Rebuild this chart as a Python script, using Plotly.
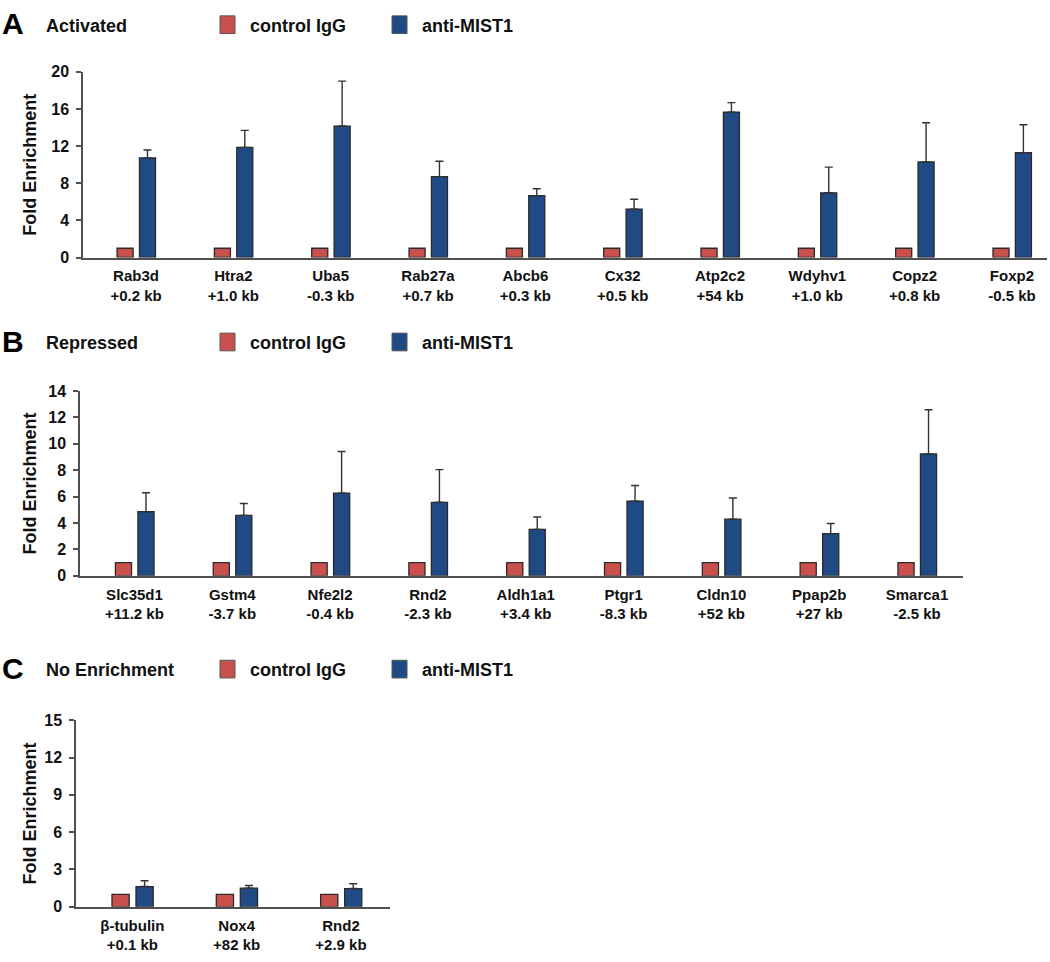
import plotly.graph_objects as go

W, H = 1050, 962

# ---------------- data ----------------
genes_a = ["Rab3d", "Htra2", "Uba5", "Rab27a", "Abcb6", "Cx32", "Atp2c2", "Wdyhv1", "Copz2", "Foxp2"]
sites_a = ["+0.2 kb", "+1.0 kb", "-0.3 kb", "+0.7 kb", "+0.3 kb", "+0.5 kb", "+54 kb", "+1.0 kb", "+0.8 kb", "-0.5 kb"]
igg_a = [1, 1, 1, 1, 1, 1, 1, 1, 1, 1]
mist1_a = [10.73, 11.86, 14.16, 8.71, 6.66, 5.20, 15.65, 6.97, 10.30, 11.29]
mist1_a_err = [0.85, 1.84, 4.84, 1.66, 0.74, 1.07, 1.03, 2.77, 4.22, 3.01]
yticks_a = [0, 4, 8, 12, 16, 20]

genes_b = ["Slc35d1", "Gstm4", "Nfe2l2", "Rnd2", "Aldh1a1", "Ptgr1", "Cldn10", "Ppap2b", "Smarca1"]
sites_b = ["+11.2 kb", "-3.7 kb", "-0.4 kb", "-2.3 kb", "+3.4 kb", "-8.3 kb", "+52 kb", "+27 kb", "-2.5 kb"]
igg_b = [1, 1, 1, 1, 1, 1, 1, 1, 1]
mist1_b = [4.86, 4.58, 6.27, 5.57, 3.52, 5.65, 4.29, 3.20, 9.24]
mist1_b_err = [1.43, 0.90, 3.15, 2.48, 0.94, 1.19, 1.61, 0.76, 3.35]
yticks_b = [0, 2, 4, 6, 8, 10, 12, 14]

genes_c = ["β-tubulin", "Nox4", "Rnd2"]
sites_c = ["+0.1 kb", "+82 kb", "+2.9 kb"]
igg_c = [1, 1, 1]
mist1_c = [1.63, 1.50, 1.47]
mist1_c_err = [0.47, 0.21, 0.39]
yticks_c = [0, 3, 6, 9, 12, 15]

panel_letters = ["A", "B", "C"]
panel_titles = ["Activated", "Repressed", "No Enrichment"]
series_names = ["control IgG", "anti-MIST1"]

# ---------------- style ----------------
RED = "#C9504D"
BLUE = "#1F4A84"
EDGE = "#2a2a2a"
AXC = "#505050"
FONT = "Liberation Sans, Arial, sans-serif"

def px_x(p):
    return p / W

def px_y(p):
    return 1 - p / H

panels = [
    dict(genes=genes_a, sites=sites_a, igg=igg_a, m=mist1_a, e=mist1_a_err, ticks=yticks_a,
         xl=83, xr=1047, yt=65, yb=254, lo=-0.545, hi=9.36, hy=17),
    dict(genes=genes_b, sites=sites_b, igg=igg_b, m=mist1_b, e=mist1_b_err, ticks=yticks_b,
         xl=80, xr=963, yt=390, yb=578, lo=-0.557, hi=8.47, hy=340),
    dict(genes=genes_c, sites=sites_c, igg=igg_c, m=mist1_c, e=mist1_c_err, ticks=yticks_c,
         xl=76, xr=390, yt=725, yb=915, lo=-0.54, hi=2.47, hy=673),
]

fig = go.Figure()
annotations = []
shapes = []

for i, p in enumerate(panels):
    sfx = "" if i == 0 else str(i + 1)
    xa, ya = "x" + sfx, "y" + sfx
    fig.add_trace(go.Bar(
        x=p["genes"], y=p["igg"], name=series_names[0], xaxis=xa, yaxis=ya,
        marker=dict(color=RED, line=dict(color=EDGE, width=1.3)),
        offset=-0.195, width=0.165, showlegend=False,
    ))
    fig.add_trace(go.Bar(
        x=p["genes"], y=p["m"], name=series_names[1], xaxis=xa, yaxis=ya,
        marker=dict(color=BLUE, line=dict(color=EDGE, width=1.3)),
        offset=0.035, width=0.165, showlegend=False,
        error_y=dict(type="data", array=p["e"], arrayminus=[0] * len(p["e"]), symmetric=False,
                     color="#333333", thickness=1.4, width=4),
    ))
    xaxis = dict(
        domain=[px_x(p["xl"]), px_x(p["xr"])], anchor=ya, type="category",
        range=[p["lo"], p["hi"]],
        tickvals=p["genes"],
        ticktext=[f"{g}<br>{s}" for g, s in zip(p["genes"], p["sites"])],
        showline=True, linecolor=AXC, linewidth=1.5, ticks="", showgrid=False,
        tickfont=dict(family=FONT, size=15, color="#111", weight="bold"),
        ticklabelstandoff=4,
    )
    yaxis = dict(
        domain=[px_y(p["yb"]), px_y(p["yt"])], anchor=xa,
        range=[0, p["ticks"][-1]], tickvals=p["ticks"],
        showline=True, linecolor=AXC, linewidth=1.5, ticks="outside", ticklen=5,
        tickwidth=1.5, tickcolor=AXC, showgrid=False, zeroline=False,
        tickfont=dict(family=FONT, size=16, color="#111", weight="bold"),
        ticklabelstandoff=4,
    )
    fig.update_layout(**{"xaxis" + sfx: xaxis, "yaxis" + sfx: yaxis})

    annotations.append(dict(
        text="Fold Enrichment", x=px_x(30), y=px_y((p["yt"] + p["yb"]) / 2),
        xref="paper", yref="paper", xanchor="center", yanchor="middle", textangle=-90,
        showarrow=False, font=dict(family=FONT, size=18, color="#111", weight="bold"),
    ))
    hy = p["hy"]
    annotations.append(dict(
        text=panel_letters[i], x=px_x(0), y=px_y(hy - 1), xref="paper", yref="paper",
        xanchor="left", yanchor="middle", showarrow=False,
        font=dict(family=FONT, size=30, color="#000", weight="bold"),
    ))
    annotations.append(dict(
        text=panel_titles[i], x=px_x(44), y=px_y(hy + 1), xref="paper", yref="paper",
        xanchor="left", yanchor="middle", showarrow=False,
        font=dict(family=FONT, size=18, color="#111", weight="bold"),
    ))
    for j, (col, lx, tx) in enumerate([(RED, 220, 248), (BLUE, 392, 420)]):
        shapes.append(dict(
            type="rect", xref="paper", yref="paper",
            x0=px_x(lx), x1=px_x(lx + 15), y0=px_y(hy + 9), y1=px_y(hy - 9),
            fillcolor=col, line=dict(color="#555555", width=1),
        ))
        annotations.append(dict(
            text=series_names[j], x=px_x(tx), y=px_y(hy + 1), xref="paper", yref="paper",
            xanchor="left", yanchor="middle", showarrow=False,
            font=dict(family=FONT, size=18, color="#111", weight="bold"),
        ))

fig.update_layout(
    width=W, height=H,
    margin=dict(l=0, r=0, t=0, b=0),
    paper_bgcolor="white", plot_bgcolor="white",
    barmode="overlay",
    annotations=annotations, shapes=shapes,
    showlegend=False,
)

fig.write_html(
    "out.html",
    config={"displayModeBar": False},
    post_script="document.body.style.margin='0px';document.body.style.overflow='hidden';",
)
